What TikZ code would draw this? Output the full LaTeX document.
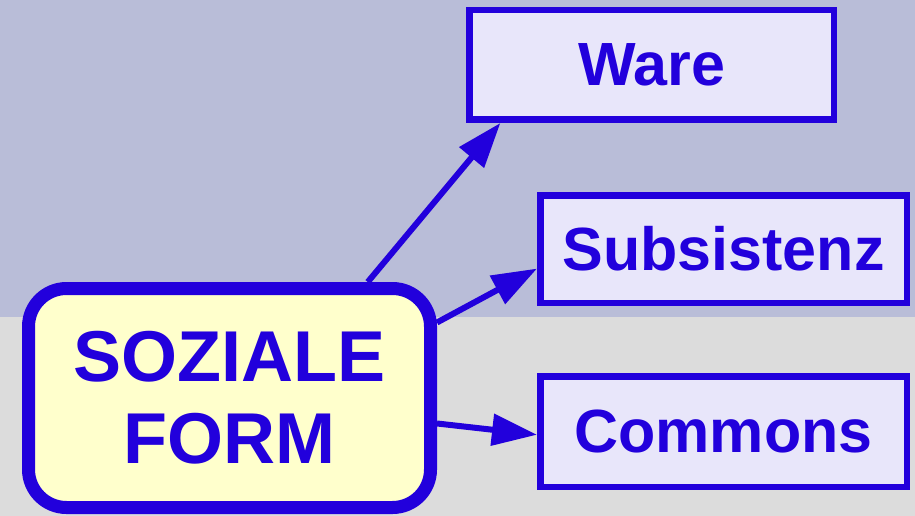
\documentclass[tikz,border=0pt]{standalone}
\usepackage{fontspec}
\setmainfont{Liberation Sans}
\usetikzlibrary{positioning,arrows.meta}

\definecolor{formblue}{RGB}{34,0,220}
\definecolor{kindfill}{RGB}{232,230,250}
\definecolor{formfill}{RGB}{255,255,204}
\definecolor{bgtop}{RGB}{185,189,216}
\definecolor{bgbottom}{RGB}{220,220,220}

\tikzset{
  formbox/.style={draw=formblue, line width=13pt, fill=formfill, rounded corners=38pt,
    text=formblue, font=\fontsize{72}{82}\selectfont\bfseries, align=center,
    minimum width=402pt, minimum height=219pt, inner sep=0pt},
  kindbox/.style={draw=formblue, line width=6.5pt, fill=kindfill, text=formblue,
    font=\fontsize{61}{70}\selectfont\bfseries, inner sep=0pt, minimum width=366.5pt},
  link/.style={draw=formblue, line width=6pt, -{Triangle[length=45pt,width=31pt]}}
}

\begin{document}
\begin{tikzpicture}[x=1pt,y=-1pt]
  \useasboundingbox (0,0) rectangle (915,516);
  \fill[bgtop] (0,0) rectangle (915,317);
  \fill[bgbottom] (0,317) rectangle (915,516);

  \node [formbox] at (229.5,398) (soz) {SOZIALE\\FORM};
  \node [kindbox, minimum width=364.5pt, minimum height=109.5pt] at (651.5,65) (ware) {Ware};
  \node [kindbox, minimum height=107.5pt] at (723.5,249) (subs) {Subsistenz};
  \node [kindbox, minimum height=110.5pt] at (723.5,431.5) (comm) {Commons};

  \draw [link] (soz.40) -- (ware.201);
  \draw [link] (soz.20) -- (subs.186);
  \draw [link] (soz.-7) -- (comm.181);
\end{tikzpicture}
\end{document}
